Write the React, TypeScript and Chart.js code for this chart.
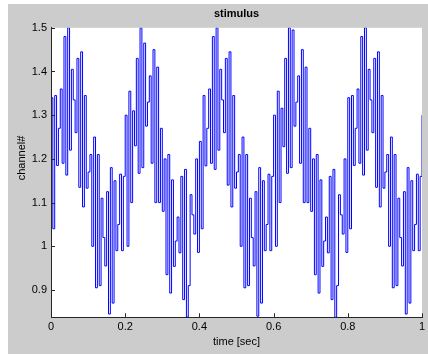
import { useEffect, useRef } from 'react';
import { Chart, registerables } from 'chart.js';

Chart.register(...registerables);

const SAMPLE_RATE = 200; // samples per second

// stimulus values, read cycle by cycle (0.2 s each)
const cycle1 = [1.34, 1.04, 1.345, 1.185, 1.27, 1.36, 1.19, 1.48, 1.163, 1.5, 1.22, 1.405, 1.335, 1.26, 1.43, 1.135, 1.445, 1.09, 1.345, 1.133, 1.17, 1.21, 1.0, 1.25, 0.905, 1.21, 0.91, 1.11, 1.02, 0.955, 1.125, 0.845, 1.18, 0.87, 1.15, 0.99, 1.05, 1.165, 0.99, 1.16];
const cycle2 = [1.3, 1.0, 1.355, 1.1, 1.31, 1.23, 1.43, 1.167, 1.5, 1.18, 1.465, 1.275, 1.33, 1.39, 1.19, 1.45, 1.1, 1.41, 1.1, 1.27, 1.08, 1.2, 0.935, 1.21, 0.893, 1.152, 0.954, 1.012, 1.067, 0.985, 1.16, 0.878, 1.176, 0.838, 0.91, 1.118, 1.072, 1.028, 1.2, 0.986];
const cycle3 = [1.24, 1.04, 1.345, 1.184, 1.27, 1.36, 1.19, 1.48, 1.176, 1.5, 1.22, 1.405, 1.335, 1.26, 1.43, 1.14, 1.445, 1.09, 1.345, 1.133, 1.17, 1.21, 1.0, 1.25, 0.905, 1.21, 0.91, 1.11, 1.02, 0.955, 1.125, 0.84, 1.18, 0.87, 1.15, 0.99, 1.05, 1.165, 0.99, 1.16];
const cycle4 = [1.3, 1.0, 1.355, 1.1, 1.316, 1.228, 1.43, 1.167, 1.5, 1.18, 1.495, 1.275, 1.33, 1.39, 1.19, 1.45, 1.1, 1.41, 1.1, 1.27, 1.08, 1.2, 0.935, 1.21, 0.893, 1.152, 0.954, 1.012, 1.067, 0.985, 1.16, 0.878, 1.176, 0.8375, 0.91, 1.118, 1.072, 1.028, 1.2, 0.986];
const cycle5 = [1.34, 1.04, 1.345, 1.185, 1.27, 1.36, 1.19, 1.48, 1.163, 1.5, 1.22, 1.405, 1.335, 1.26, 1.43, 1.135, 1.445, 1.09, 1.345, 1.133, 1.17, 1.21, 1.0, 1.25, 0.905, 1.21, 0.91, 1.11, 1.02, 0.955, 1.125, 0.845, 1.18, 0.87, 1.15, 0.99, 1.05, 1.165, 0.99, 1.16];
const lastValue = [1.3];

const channelValues = [...cycle1, ...cycle2, ...cycle3, ...cycle4, ...cycle5, ...lastValue];

const xTicks = [0, 0.2, 0.4, 0.6, 0.8, 1];
const yTicks = [0.9, 1, 1.1, 1.2, 1.3, 1.4, 1.5];
const Y_MIN = 0.8375;
const Y_MAX = 1.5;

const FONT_FAMILY = '"Liberation Sans", Arial, Helvetica, sans-serif';
const FONT = { family: FONT_FAMILY, size: 11 };
const AXIS_COLOR = '#262626';

const fmt = (v: number) => String(Number(v.toFixed(3)));

const plotBackground = {
  id: 'plotBackground',
  beforeDraw(chart: any) {
    const { ctx, chartArea } = chart;
    ctx.save();
    ctx.fillStyle = '#ffffff';
    ctx.fillRect(chartArea.left, chartArea.top, chartArea.right - chartArea.left, chartArea.bottom - chartArea.top);
    ctx.restore();
  },
};

const inwardTicks = {
  id: 'inwardTicks',
  afterDraw(chart: any) {
    const { ctx, chartArea, scales } = chart;
    ctx.save();
    ctx.strokeStyle = AXIS_COLOR;
    ctx.lineWidth = 1;
    ctx.beginPath();
    for (const v of xTicks) {
      const px = Math.round(scales.x.getPixelForValue(v)) + 0.5;
      ctx.moveTo(px, chartArea.bottom);
      ctx.lineTo(px, chartArea.bottom - 4);
    }
    for (const v of yTicks) {
      const py = Math.round(scales.y.getPixelForValue(v)) + 0.5;
      ctx.moveTo(chartArea.left, py);
      ctx.lineTo(chartArea.left + 4, py);
    }
    ctx.stroke();
    // y axis label, placed as in the reference figure
    ctx.fillStyle = '#000';
    ctx.font = `11px ${FONT_FAMILY}`;
    ctx.textAlign = 'center';
    ctx.textBaseline = 'middle';
    ctx.translate(14, 154);
    ctx.rotate(-Math.PI / 2);
    ctx.fillText('channel#', 0, 0);
    ctx.restore();
  },
};

export default function App() {
  const canvasRef = useRef<HTMLCanvasElement | null>(null);

  useEffect(() => {
    const canvas = canvasRef.current;
    if (!canvas) return;
    const points = channelValues.map((v, i) => ({ x: i / SAMPLE_RATE, y: v }));
    const chart = new Chart(canvas, {
      type: 'line',
      data: {
        datasets: [
          {
            label: 'stimulus',
            data: points,
            borderColor: '#0000ff',
            borderWidth: 1,
            pointRadius: 0,
            stepped: 'before',
            fill: false,
          },
        ],
      },
      options: {
        animation: false,
        responsive: false,
        devicePixelRatio: 1,
        layout: { padding: { left: 0, right: 6, top: 0, bottom: 0 } },
        plugins: {
          legend: { display: false },
          tooltip: { enabled: false },
          title: {
            display: true,
            text: 'stimulus',
            color: '#000',
            fullSize: false,
            font: { ...FONT, weight: 'bold' },
            padding: { top: 3, bottom: 7.6 },
          },
        },
        scales: {
          x: {
            type: 'linear',
            min: xTicks[0],
            max: xTicks[xTicks.length - 1],
            afterBuildTicks: (scale: any) => {
              scale.ticks = xTicks.map((v) => ({ value: v }));
            },
            afterFit: (scale: any) => {
              scale.height = 36.7;
              scale.paddingLeft = 0;
              scale.paddingRight = 0;
            },
            grid: { display: false, drawTicks: false },
            border: { display: true, color: AXIS_COLOR, width: 1 },
            ticks: {
              color: '#000',
              font: FONT,
              padding: 3,
              maxRotation: 0,
              autoSkip: false,
              callback: (v: any) => fmt(Number(v)),
            },
            title: {
              display: true,
              text: 'time [sec]',
              color: '#000',
              font: FONT,
              padding: { top: 0, bottom: 5.4 },
            },
          },
          y: {
            type: 'linear',
            min: Y_MIN,
            max: Y_MAX,
            afterBuildTicks: (scale: any) => {
              scale.ticks = yTicks.map((v) => ({ value: v }));
            },
            afterFit: (scale: any) => {
              scale.width = 43;
              scale.paddingTop = 0;
              scale.paddingBottom = 0;
            },
            grid: { display: false, drawTicks: false },
            border: { display: true, color: AXIS_COLOR, width: 1 },
            ticks: {
              color: '#000',
              font: FONT,
              padding: 4,
              autoSkip: false,
              callback: (v: any) => fmt(Number(v)),
            },
            title: { display: false, text: 'channel#' },
          },
        },
      },
      plugins: [plotBackground, inwardTicks],
    } as any);
    return () => chart.destroy();
  }, []);

  return (
    <div style={{ position: 'fixed', left: 8, top: 4, width: 420, height: 350, background: '#cccccc' }}>
      <canvas ref={canvasRef} width={420} height={350} style={{ display: 'block', width: 420, height: 350 }} />
    </div>
  );
}
